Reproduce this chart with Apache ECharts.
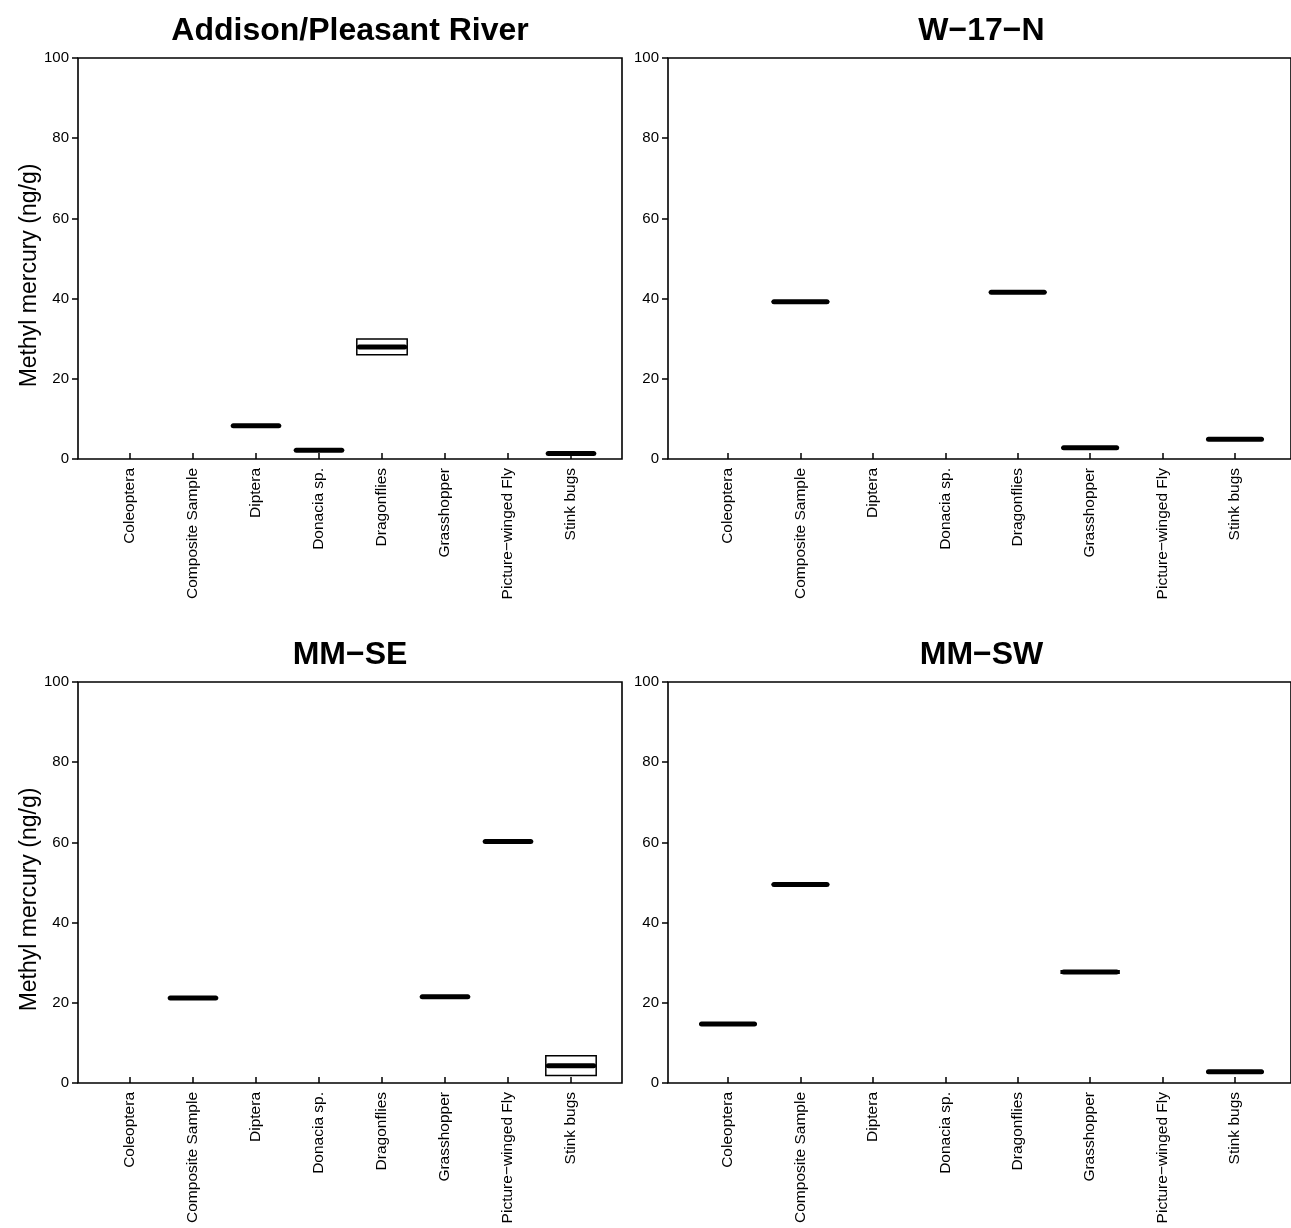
<!DOCTYPE html>
<html lang="en">
<head>
    <meta charset="UTF-8">
    <title>Methyl mercury by site</title>
    <style>
        body { margin: 0; padding: 0; background: #fff; }
        #chart { width: 1291px; height: 1228px; }
    </style>
</head>
<body>
    <div id="chart"></div>
    <script src="https://cdn.jsdelivr.net/npm/echarts@6/dist/echarts.min.js"></script>
    <script>
        var categories = ['Coleoptera', 'Composite Sample', 'Diptera', 'Donacia sp.', 'Dragonflies',
            'Grasshopper', 'Picture\u2212winged Fly', 'Stink bugs'];
        var yTicks = [0, 20, 40, 60, 80, 100];

        // [q1, median, q3] per category, null = no sample
        var addison = [null, null, [8.3, 8.3, 8.3], [2.2, 2.2, 2.2], [26.0, 27.9, 29.9], null, null, [1.4, 1.4, 1.4]];
        var w17n = [null, [39.2, 39.2, 39.2], null, null, [41.6, 41.6, 41.6], [2.8, 2.8, 2.8], null, [4.9, 4.9, 4.9]];
        var mmse = [null, [21.2, 21.2, 21.2], null, null, null, [21.5, 21.5, 21.5], [60.2, 60.2, 60.2], [1.9, 4.3, 6.8]];
        var mmsw = [[14.7, 14.7, 14.7], [49.5, 49.5, 49.5], null, null, null, [27.4, 27.7, 28.0], null, [2.8, 2.8, 2.8]];

        var siteNames = ['Addison/Pleasant River', 'W\u221217\u2212N', 'MM\u2212SE', 'MM\u2212SW'];
        var siteData = [addison, w17n, mmse, mmsw];

        var font = 'Liberation Sans, Arial, Helvetica, sans-serif';

        // frame box and inner (category) box for each panel
        var panels = [
            { frame: { left: 78, top: 58, width: 544, height: 401 }, inner: { left: 98.5, width: 504 } },
            { frame: { left: 668, top: 58, width: 627, height: 401 }, inner: { left: 691.8, width: 579.4 } },
            { frame: { left: 78, top: 682, width: 544, height: 401 }, inner: { left: 98.5, width: 504 } },
            { frame: { left: 668, top: 682, width: 627, height: 401 }, inner: { left: 691.8, width: 579.4 } }
        ];

        var chart = echarts.init(document.getElementById('chart'));

        function renderBox(params, api) {
            var x = api.value(0);
            var lo = api.coord([x, api.value(1)]);
            var md = api.coord([x, api.value(2)]);
            var hi = api.coord([x, api.value(3)]);
            var w = api.size([1, 0])[0] * 0.8;
            return {
                type: 'group',
                children: [
                    {
                        type: 'rect',
                        shape: { x: lo[0] - w / 2, y: hi[1], width: w, height: lo[1] - hi[1] },
                        style: { fill: 'none', stroke: '#000', lineWidth: 1.5 }
                    },
                    {
                        type: 'line',
                        shape: { x1: md[0] - w / 2 + 2.5, y1: md[1], x2: md[0] + w / 2 - 2.5, y2: md[1] },
                        style: { stroke: '#000', lineWidth: 5, lineCap: 'round' }
                    }
                ]
            };
        }

        var grid = [], xAxis = [], yAxis = [], series = [], title = [], graphic = [];

        panels.forEach(function (p, i) {
            var f = p.frame;
            var fi = i * 2, ii = i * 2 + 1;
            // frame grid: border + y axis labels
            grid.push({ left: f.left, top: f.top, width: f.width, height: f.height,
                show: true, borderColor: '#000', borderWidth: 1.6, backgroundColor: 'transparent' });
            xAxis.push({ gridIndex: fi, type: 'value', show: false, min: 0, max: 1 });
            yAxis.push({
                gridIndex: fi, type: 'value', min: 0, max: 100, interval: 20,
                axisLine: { show: false },
                axisTick: { show: true, length: 6, lineStyle: { color: '#000', width: 1.5 } },
                axisLabel: { color: '#000', fontSize: 15, fontFamily: font, margin: 9 },
                splitLine: { show: false }
            });
            // inner grid: categories and boxes
            grid.push({ left: p.inner.left, top: f.top, width: p.inner.width, height: f.height });
            xAxis.push({
                gridIndex: ii, type: 'category', data: categories, boundaryGap: true,
                axisLine: { show: false },
                axisTick: { show: true, inside: true, alignWithLabel: true, length: 6,
                    lineStyle: { color: '#000', width: 1.5 } },
                axisLabel: { rotate: 90, interval: 0, color: '#000', fontSize: 15.5, fontFamily: font, margin: 9 }
            });
            yAxis.push({ gridIndex: ii, type: 'value', min: 0, max: 100, show: false, splitLine: { show: false } });

            var rows = [];
            siteData[i].forEach(function (b, k) {
                if (b) rows.push([k, b[0], b[1], b[2]]);
            });
            series.push({
                type: 'custom', xAxisIndex: ii, yAxisIndex: ii,
                renderItem: renderBox, data: rows, silent: true, clip: false
            });

            title.push({
                text: siteNames[i],
                left: f.left + Math.min(f.width, 1291 - f.left + 4) / 2,
                top: f.top - 43,
                padding: 0,
                textAlign: 'center',
                textStyle: { fontSize: 32, fontWeight: 'bold', color: '#000', fontFamily: font }
            });
        });

        // y axis titles on the left panels
        [0, 2].forEach(function (i) {
            var f = panels[i].frame;
            graphic.push({
                type: 'text', x: 30, y: f.top + f.height / 2 + 17, rotation: Math.PI / 2,
                style: { text: 'Methyl mercury (ng/g)', fontSize: 23, fontFamily: font, fill: '#000',
                    align: 'center', verticalAlign: 'middle' }
            });
        });

        var option = {
            animation: false,
            backgroundColor: '#fff',
            title: title,
            grid: grid,
            xAxis: xAxis,
            yAxis: yAxis,
            series: series,
            graphic: graphic
        };
        chart.setOption(option);
    </script>
</body>
</html>
